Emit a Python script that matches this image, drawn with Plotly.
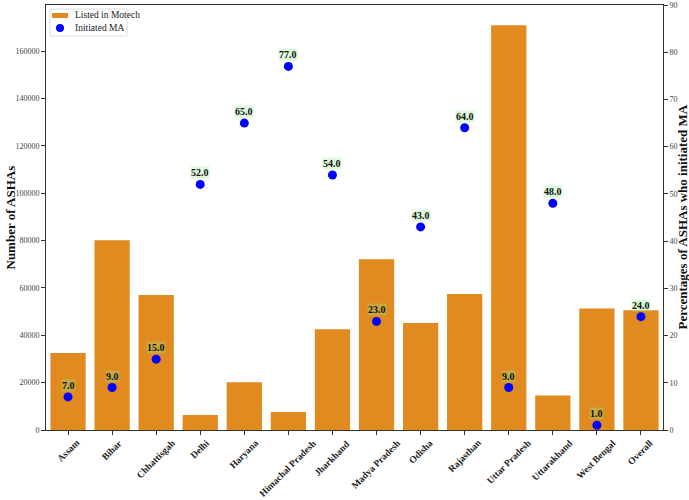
import plotly.graph_objects as go

states = ["Assam", "Bihar", "Chhattisgah", "Delhi", "Haryana", "Himachal Pradesh",
          "Jharkhand", "Madya Pradesh", "Odisha", "Rajasthan", "Uttar Pradesh",
          "Uttarakhand", "West Bengal", "Overall"]
listed_in_motech = [32500, 80200, 57000, 6300, 20200, 7600, 42600, 72100, 45200,
                    57500, 171000, 14600, 51300, 50600]
initiated_ma_pct = [7.0, 9.0, 15.0, 52.0, 65.0, 77.0, 54.0, 23.0, 43.0, 64.0, 9.0,
                    48.0, 1.0, 24.0]
left_ticks = [0, 20000, 40000, 60000, 80000, 100000, 120000, 140000, 160000]
right_ticks = [0, 10, 20, 30, 40, 50, 60, 70, 80, 90]

SERIF = "Liberation Serif, Times New Roman, serif"
BAR_COLOR = "#E08A20"
DOT_COLOR = "#0000FF"
idx = list(range(len(states)))

W, H = 689, 500
ML, MR, MT, MB = 46, 26, 5, 70
PW, PH = W - ML - MR, H - MT - MB


def px(xp):
    return (xp - ML) / PW


def py(yp):
    return 1 - (yp - MT) / PH


fig = go.Figure()
fig.add_trace(go.Bar(x=idx, y=listed_in_motech, name="Listed in Motech",
                     marker=dict(color=BAR_COLOR, line=dict(width=0)), yaxis="y"))
fig.add_trace(go.Scatter(x=idx, y=initiated_ma_pct, name="Initiated MA", mode="markers",
                         marker=dict(color=DOT_COLOR, size=9), yaxis="y2"))

annotations = []
for i, (s, v) in enumerate(zip(states, initiated_ma_pct)):
    annotations.append(dict(x=i, y=v, xref="x", yref="y2", text=f"<b>{v:.1f}</b>",
                            showarrow=False, yanchor="bottom", yshift=5,
                            font=dict(family=SERIF, size=10, color="#111"),
                            bgcolor="rgba(144,238,144,0.3)", borderpad=0))
    annotations.append(dict(x=i, y=0, xref="x", yref="paper", text=f"<b>{s}</b>",
                            showarrow=False, textangle=-45, xanchor="center",
                            yanchor="top", yshift=-5,
                            font=dict(family=SERIF, size=9.5, color="#222")))

annotations.append(dict(x=0, y=0.5, xref="paper", yref="paper", text="<b>Number of ASHAs</b>",
                        showarrow=False, textangle=-90, xshift=-36, xanchor="center",
                        yanchor="middle", font=dict(family=SERIF, size=13, color="#111")))
annotations.append(dict(x=1, y=0.5, xref="paper", yref="paper",
                        text="<b>Percentages of ASHAs who initiated MA</b>",
                        showarrow=False, textangle=-90, xshift=19, xanchor="center",
                        yanchor="middle", font=dict(family=SERIF, size=13, color="#111")))

# legend (drawn manually to match the compact matplotlib legend)
shapes = [
    dict(type="rect", xref="paper", yref="paper", x0=px(50), x1=px(127), y0=py(36), y1=py(9),
         line=dict(color="#dddddd", width=1), fillcolor="white", layer="above"),
    dict(type="rect", xref="paper", yref="paper", x0=px(52), x1=px(68), y0=py(18), y1=py(13),
         line=dict(width=0), fillcolor=BAR_COLOR, layer="above"),
    dict(type="circle", xref="paper", yref="paper", x0=px(56), x1=px(64), y0=py(32), y1=py(24),
         line=dict(width=0), fillcolor=DOT_COLOR, layer="above"),
]
annotations.append(dict(x=px(73), y=py(15.5), xref="paper", yref="paper", text="Listed in Motech",
                        showarrow=False, xanchor="left", yanchor="middle",
                        font=dict(family=SERIF, size=9.5, color="#222")))
annotations.append(dict(x=px(73), y=py(28), xref="paper", yref="paper", text="Initiated MA",
                        showarrow=False, xanchor="left", yanchor="middle",
                        font=dict(family=SERIF, size=9.5, color="#222")))

fig.update_layout(
    width=W, height=H,
    margin=dict(l=ML, r=MR, t=MT, b=MB, autoexpand=False),
    paper_bgcolor="white", plot_bgcolor="white",
    bargap=0.2,
    showlegend=False,
    xaxis=dict(range=[-0.5, 13.5], tickvals=idx, showticklabels=False,
               ticks="outside", ticklen=4, tickcolor="#333", automargin=False,
               showline=True, mirror=True, linecolor="#333", linewidth=1,
               showgrid=False, zeroline=False),
    yaxis=dict(range=[0, 179550], tickvals=left_ticks,
               ticktext=[str(t) for t in left_ticks], automargin=False,
               ticks="outside", ticklen=4, tickcolor="#333",
               tickfont=dict(family=SERIF, size=8, color="#444"),
               showline=True, linecolor="#333", linewidth=1,
               showgrid=False, zeroline=False),
    yaxis2=dict(range=[0, 90], tickvals=right_ticks, overlaying="y", side="right",
                ticks="outside", ticklen=4, tickcolor="#333", automargin=False,
                tickfont=dict(family=SERIF, size=8, color="#444"),
                showline=True, linecolor="#333", linewidth=1,
                showgrid=False, zeroline=False),
    annotations=annotations,
    shapes=shapes,
)

fig.write_html("out.html", config={"displayModeBar": False},
               post_script="document.body.style.margin='0px';document.body.style.overflow='hidden';")
